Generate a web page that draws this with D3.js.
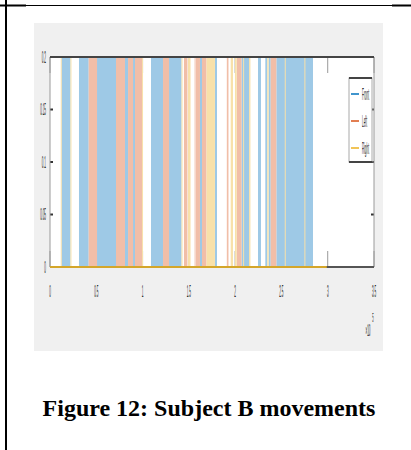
<!DOCTYPE html>
<html>
<head>
<meta charset="utf-8">
<script src="https://cdn.jsdelivr.net/npm/d3@7"></script>
<style>
  body { margin: 0; background: #fff; }
  svg { display: block; }
</style>
</head>
<body>
<div id="wrapper"></div>
<script>
// movement segments, [start, end] in samples x 10^5
const frontSegments = [
  [0.124, 0.221], [0.313, 0.418], [0.508, 0.713], [0.810, 0.843], [0.897, 0.918],
  [1.091, 1.221], [1.286, 1.421], [1.620, 1.642], [1.782, 1.804], [2.069, 2.150],
  [2.247, 2.279], [2.326, 2.347], [2.362, 2.384], [2.445, 2.841]
];
const leftSegments = [
  [0.418, 0.508], [0.713, 0.810], [0.843, 0.897], [0.918, 0.994], [1.221, 1.286],
  [1.447, 1.485], [1.562, 1.572], [1.577, 1.620], [1.642, 1.691], [1.910, 1.928],
  [2.017, 2.069], [2.384, 2.445]
];
const rightSegments = [
  [0.116, 0.124], [0.221, 0.227], [0.994, 1.005], [1.421, 1.427], [1.491, 1.518],
  [1.691, 1.782], [1.952, 1.977], [1.998, 2.017], [2.086, 2.092], [2.150, 2.165],
  [2.347, 2.362], [2.536, 2.542], [2.748, 2.754]
];
const activeLevel = 0.2;
const dataEnd = 2.99;

const seriesNames = ["Front", "Left", "Right"];
const seriesColors = ["#0072BD", "#D95319", "#EDB120"];
const xTicks = [0, 0.5, 1, 1.5, 2, 2.5, 3, 3.5];
const xTickLabels = ["0", "0.5", "1", "1.5", "2", "2.5", "3", "3.5"];
const yTicks = [0, 0.05, 0.1, 0.15, 0.2];
const yTickLabels = ["0", "0.05", "0.1", "0.15", "0.2"];

const width = 411;
const height = 450;

const svg = d3.select("#wrapper")
  .append("svg")
  .attr("width", width)
  .attr("height", height);

// page decoration
svg.append("line").attr("x1", 6).attr("x2", 6).attr("y1", 0).attr("y2", height)
  .attr("stroke", "#000").attr("stroke-width", 2);
svg.append("line").attr("x1", 0).attr("x2", 26).attr("y1", 5.5).attr("y2", 5.5)
  .attr("stroke", "#000").attr("stroke-width", 2);
svg.append("line").attr("x1", 26).attr("x2", 392).attr("y1", 5.5).attr("y2", 5.5)
  .attr("stroke", "#000").attr("stroke-width", 1);
svg.append("line").attr("x1", 392).attr("x2", 411).attr("y1", 5.5).attr("y2", 5.5)
  .attr("stroke", "#000").attr("stroke-width", 2);

// figure background
svg.append("rect")
  .attr("x", 34).attr("y", 23).attr("width", 349).attr("height", 328)
  .attr("fill", "#f0f0f0");

const x = d3.scaleLinear().domain([0, 3.5]).range([50, 374]);
const y = d3.scaleLinear().domain([0, 0.2]).range([267, 57]);

const plot = svg.append("g");

plot.append("rect")
  .attr("x", x(0)).attr("y", y(0.2))
  .attr("width", x(3.5) - x(0)).attr("height", y(0) - y(0.2))
  .attr("fill", "#fff");

// tick marks (drawn under the data)
const xTickLen = 16, yTickLen = 3;
plot.selectAll(".xtick-b").data(xTicks).enter().append("line")
  .attr("x1", d => x(d)).attr("x2", d => x(d))
  .attr("y1", y(0)).attr("y2", y(0) - xTickLen)
  .attr("stroke", "#9a9a9a").attr("stroke-width", 1);
plot.selectAll(".xtick-t").data(xTicks).enter().append("line")
  .attr("x1", d => x(d)).attr("x2", d => x(d))
  .attr("y1", y(0.2)).attr("y2", y(0.2) + xTickLen)
  .attr("stroke", "#9a9a9a").attr("stroke-width", 1);
plot.selectAll(".ytick-l").data(yTicks).enter().append("line")
  .attr("x1", x(0)).attr("x2", x(0) + yTickLen)
  .attr("y1", d => y(d)).attr("y2", d => y(d))
  .attr("stroke", "#333").attr("stroke-width", 2);
plot.selectAll(".ytick-r").data(yTicks).enter().append("line")
  .attr("x1", x(3.5)).attr("x2", x(3.5) - yTickLen)
  .attr("y1", d => y(d)).attr("y2", d => y(d))
  .attr("stroke", "#333").attr("stroke-width", 2);

// movement bars (pale, opaque so ticks stay hidden)
const allSeries = [frontSegments, leftSegments, rightSegments];
allSeries.forEach((segs, i) => {
  const pale = d3.interpolateRgb("#ffffff", seriesColors[i])(0.38);
  plot.selectAll(".seg" + i).data(segs).enter().append("rect")
    .attr("x", d => x(d[0]))
    .attr("y", y(activeLevel))
    .attr("width", d => Math.max(1, x(d[1]) - x(d[0])))
    .attr("height", y(0) - y(activeLevel))
    .attr("fill", pale);
});

// axes box
plot.append("line").attr("x1", x(0)).attr("x2", x(0)).attr("y1", y(0.2)).attr("y2", y(0))
  .attr("stroke", "#9a9a9a").attr("stroke-width", 1);
plot.append("line").attr("x1", x(3.5)).attr("x2", x(3.5)).attr("y1", y(0.2)).attr("y2", y(0))
  .attr("stroke", "#9a9a9a").attr("stroke-width", 1);
plot.append("line").attr("x1", x(0)).attr("x2", x(3.5)).attr("y1", y(0.2)).attr("y2", y(0.2))
  .attr("stroke", "#444").attr("stroke-width", 2);
plot.append("line").attr("x1", x(0)).attr("x2", x(3.5)).attr("y1", y(0)).attr("y2", y(0))
  .attr("stroke", "#555").attr("stroke-width", 2);

// zero level of the last series
plot.append("line")
  .attr("x1", x(0)).attr("x2", x(dataEnd))
  .attr("y1", y(0)).attr("y2", y(0))
  .attr("stroke", "#d4a62a").attr("stroke-width", 2);

// squeezed text helper
const sx = 0.3, sy = 1.7;
function squeezed(g, tx, ty, str, anchor, size) {
  g.append("g")
    .attr("transform", `translate(${tx},${ty})`)
    .append("text")
    .attr("transform", `scale(${sx},${sy})`)
    .attr("text-anchor", anchor)
    .attr("dominant-baseline", "central")
    .attr("font-family", "Liberation Sans, Arial, sans-serif")
    .attr("font-size", size)
    .attr("fill", "#262626")
    .text(str);
}

yTicks.forEach((t, i) => squeezed(plot, 46, y(t), yTickLabels[i], "end", 10));
xTicks.forEach((t, i) => squeezed(plot, x(t), 291, xTickLabels[i], "middle", 10));
squeezed(plot, 368, 330, "×10", "middle", 10);
squeezed(plot, 373, 317, "5", "middle", 8);

// legend
const legend = svg.append("g");
legend.append("rect")
  .attr("x", 349).attr("y", 78).attr("width", 23).attr("height", 84)
  .attr("fill", "#fff").attr("stroke", "#aaa").attr("stroke-width", 1);
legend.append("line").attr("x1", 349).attr("x2", 372).attr("y1", 78).attr("y2", 78)
  .attr("stroke", "#444").attr("stroke-width", 2);
legend.append("line").attr("x1", 349).attr("x2", 372).attr("y1", 162).attr("y2", 162)
  .attr("stroke", "#444").attr("stroke-width", 2);
const legendY = [94, 121, 148];
seriesNames.forEach((name, i) => {
  legend.append("line")
    .attr("x1", 351).attr("x2", 359)
    .attr("y1", legendY[i]).attr("y2", legendY[i])
    .attr("stroke", seriesColors[i]).attr("stroke-width", 1.5);
  squeezed(legend, 362, legendY[i], name, "start", 10);
});

// caption
svg.append("text")
  .attr("x", 209).attr("y", 416)
  .attr("text-anchor", "middle")
  .attr("font-family", "Liberation Serif, Times New Roman, serif")
  .attr("font-weight", "bold")
  .attr("font-size", 24)
  .attr("fill", "#000")
  .text("Figure 12: Subject B movements");
</script>
</body>
</html>
